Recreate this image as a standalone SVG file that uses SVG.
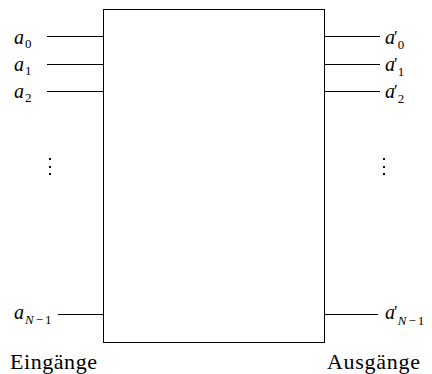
<svg xmlns="http://www.w3.org/2000/svg" width="432" height="374" viewBox="0 0 432 374">
  <style>
    .ln { stroke: #000; stroke-width: 1; fill: none; }
    text { font-family: "Liberation Serif", "DejaVu Serif", serif; fill: #000; }
    .v { font-style: italic; font-size: 20px; }
    .s { font-style: normal; font-size: 13px; }
    .si { font-style: italic; font-size: 13px; }
    .pr { font-style: normal; font-size: 17px; }
    .lbl { font-size: 22px; }
    .dot { fill: #000; }
  </style>

  <g id="block">
    <rect class="ln" x="103.5" y="9.5" width="221" height="333"/>
  </g>

  <g id="connectors">
    <line class="ln" x1="47" y1="36.5" x2="103.5" y2="36.5"/>
    <line class="ln" x1="47" y1="64.5" x2="103.5" y2="64.5"/>
    <line class="ln" x1="47" y1="91.5" x2="103.5" y2="91.5"/>
    <line class="ln" x1="58" y1="314.5" x2="103.5" y2="314.5"/>
    <line class="ln" x1="324.5" y1="36.5" x2="380" y2="36.5"/>
    <line class="ln" x1="324.5" y1="64.5" x2="380" y2="64.5"/>
    <line class="ln" x1="324.5" y1="91.5" x2="380" y2="91.5"/>
    <line class="ln" x1="324.5" y1="314.5" x2="378" y2="314.5"/>
  </g>

  <g id="inputs">
    <text class="v" x="14" y="44">a<tspan class="s" dx="1" dy="4">0</tspan></text>
    <text class="v" x="14" y="71">a<tspan class="s" dx="1" dy="4">1</tspan></text>
    <text class="v" x="14" y="98">a<tspan class="s" dx="1" dy="4">2</tspan></text>
    <rect class="dot" x="49" y="158" width="2" height="2"/>
    <rect class="dot" x="49" y="166" width="2" height="2"/>
    <rect class="dot" x="49" y="173" width="2" height="2"/>
    <text class="v" x="14" y="319">a<tspan class="si" dx="1" dy="5">N</tspan><tspan class="s" dx="2">−</tspan><tspan class="s" dx="2">1</tspan></text>
    <text class="lbl" x="10" y="369" textLength="87" lengthAdjust="spacing">Eingänge</text>
  </g>

  <g id="outputs">
    <text class="v" x="385" y="44">a<tspan class="pr" dx="-1" dy="-2">′</tspan><tspan class="s" dy="7">0</tspan></text>
    <text class="v" x="385" y="71">a<tspan class="pr" dx="-1" dy="-2">′</tspan><tspan class="s" dy="7">1</tspan></text>
    <text class="v" x="385" y="98">a<tspan class="pr" dx="-1" dy="-2">′</tspan><tspan class="s" dy="7">2</tspan></text>
    <rect class="dot" x="383" y="158" width="2" height="2"/>
    <rect class="dot" x="383" y="166" width="2" height="2"/>
    <rect class="dot" x="383" y="173" width="2" height="2"/>
    <text class="v" x="385" y="319">a<tspan class="pr" dx="-1" dy="-2">′</tspan><tspan class="si" dy="8">N</tspan><tspan class="s" dx="2">−</tspan><tspan class="s" dx="2">1</tspan></text>
    <text class="lbl" x="327" y="369" textLength="93" lengthAdjust="spacing">Ausgänge</text>
  </g>
</svg>
